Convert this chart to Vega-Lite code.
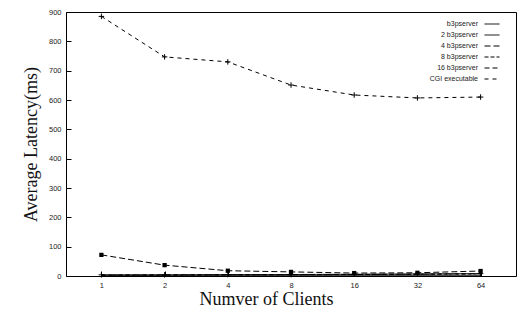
{
  "$schema": "https://vega.github.io/schema/vega-lite/v6.json",
  "autosize": "none",
  "width": 450,
  "height": 264,
  "padding": {"left": 66, "top": 12, "right": 5, "bottom": 37},
  "background": "white",
  "config": {
    "view": {"stroke": "black", "strokeWidth": 1},
    "axis": {
      "domain": false,
      "grid": false,
      "tickColor": "black",
      "labelFont": "Liberation Sans",
      "labelFontSize": 7.5,
      "labelColor": "#222",
      "titleFont": "Liberation Serif",
      "titleFontWeight": "normal",
      "titleFontSize": 18,
      "titleColor": "#111"
    },
    "legend": {
      "labelFont": "Liberation Sans",
      "labelFontSize": 7,
      "labelColor": "#222"
    }
  },
  "data": {
    "values": [
      {"series": "b3pserver", "clients": "1", "latency": 2},
      {"series": "b3pserver", "clients": "2", "latency": 2},
      {"series": "b3pserver", "clients": "4", "latency": 2},
      {"series": "b3pserver", "clients": "8", "latency": 2},
      {"series": "b3pserver", "clients": "16", "latency": 2},
      {"series": "b3pserver", "clients": "32", "latency": 2},
      {"series": "b3pserver", "clients": "64", "latency": 2},
      {"series": "2 b3pserver", "clients": "1", "latency": 4},
      {"series": "2 b3pserver", "clients": "2", "latency": 4},
      {"series": "2 b3pserver", "clients": "4", "latency": 5},
      {"series": "2 b3pserver", "clients": "8", "latency": 5},
      {"series": "2 b3pserver", "clients": "16", "latency": 6},
      {"series": "2 b3pserver", "clients": "32", "latency": 7},
      {"series": "2 b3pserver", "clients": "64", "latency": 8},
      {"series": "4 b3pserver", "clients": "1", "latency": 72},
      {"series": "4 b3pserver", "clients": "2", "latency": 37},
      {"series": "4 b3pserver", "clients": "4", "latency": 18},
      {"series": "4 b3pserver", "clients": "8", "latency": 14},
      {"series": "4 b3pserver", "clients": "16", "latency": 10},
      {"series": "4 b3pserver", "clients": "32", "latency": 11},
      {"series": "4 b3pserver", "clients": "64", "latency": 17},
      {"series": "8 b3pserver", "clients": "1", "latency": 3},
      {"series": "8 b3pserver", "clients": "2", "latency": 3},
      {"series": "8 b3pserver", "clients": "4", "latency": 4},
      {"series": "8 b3pserver", "clients": "8", "latency": 4},
      {"series": "8 b3pserver", "clients": "16", "latency": 5},
      {"series": "8 b3pserver", "clients": "32", "latency": 6},
      {"series": "8 b3pserver", "clients": "64", "latency": 7},
      {"series": "16 b3pserver", "clients": "1", "latency": 3},
      {"series": "16 b3pserver", "clients": "2", "latency": 4},
      {"series": "16 b3pserver", "clients": "4", "latency": 4},
      {"series": "16 b3pserver", "clients": "8", "latency": 5},
      {"series": "16 b3pserver", "clients": "16", "latency": 5},
      {"series": "16 b3pserver", "clients": "32", "latency": 6},
      {"series": "16 b3pserver", "clients": "64", "latency": 8},
      {"series": "CGI executable", "clients": "1", "latency": 885},
      {"series": "CGI executable", "clients": "2", "latency": 747},
      {"series": "CGI executable", "clients": "4", "latency": 730},
      {"series": "CGI executable", "clients": "8", "latency": 651},
      {"series": "CGI executable", "clients": "16", "latency": 617},
      {"series": "CGI executable", "clients": "32", "latency": 607},
      {"series": "CGI executable", "clients": "64", "latency": 610}
    ]
  },
  "encoding": {
    "x": {
      "field": "clients",
      "type": "ordinal",
      "sort": ["1", "2", "4", "8", "16", "32", "64"],
      "scale": {"type": "point", "padding": 0.56},
      "axis": {"title": "Numver of Clients", "labelAngle": 0, "tickSize": -5, "labelPadding": 10, "titlePadding": 2, "titleX": 200}
    },
    "y": {
      "field": "latency",
      "type": "quantitative",
      "scale": {"domain": [0, 900], "nice": false, "zero": true},
      "axis": {"title": "Average Latency(ms)", "values": [0, 100, 200, 300, 400, 500, 600, 700, 800, 900], "tickSize": -5, "labelPadding": 10, "titlePadding": 8}
    }
  },
  "layer": [
    {
      "mark": {"type": "line", "strokeWidth": 1, "color": "black"},
      "encoding": {
        "detail": {"field": "series"},
        "strokeDash": {
          "field": "series",
          "type": "nominal",
          "sort": ["b3pserver", "2 b3pserver", "4 b3pserver", "8 b3pserver", "16 b3pserver", "CGI executable"],
          "scale": {"domain": ["b3pserver", "2 b3pserver", "4 b3pserver", "8 b3pserver", "16 b3pserver", "CGI executable"], "range": [[1, 0], [1, 0], [6, 3], [4, 2], [5, 3], [4, 4]]},
          "legend": {"orient": "none", "legendX": 418, "legendY": 4, "title": null, "labelAlign": "right", "labelOffset": -22, "symbolSize": 225, "rowPadding": -2, "symbolStrokeWidth": 1, "symbolStrokeColor": "black", "symbolType": "stroke"}
        }
      }
    },
    {
      "mark": {"type": "point", "filled": true, "size": 18, "color": "black", "opacity": 1},
      "transform": [{"filter": "datum.series === '4 b3pserver'"}],
      "encoding": {"shape": {"value": "square"}}
    },
    {
      "mark": {"type": "point", "filled": false, "size": 30, "color": "black", "opacity": 1, "strokeWidth": 1},
      "transform": [{"filter": "datum.series === 'CGI executable' || datum.series === '2 b3pserver'"}],
      "encoding": {"shape": {"value": "M-1,0L1,0M0,-1L0,1"}}
    }
  ]
}
